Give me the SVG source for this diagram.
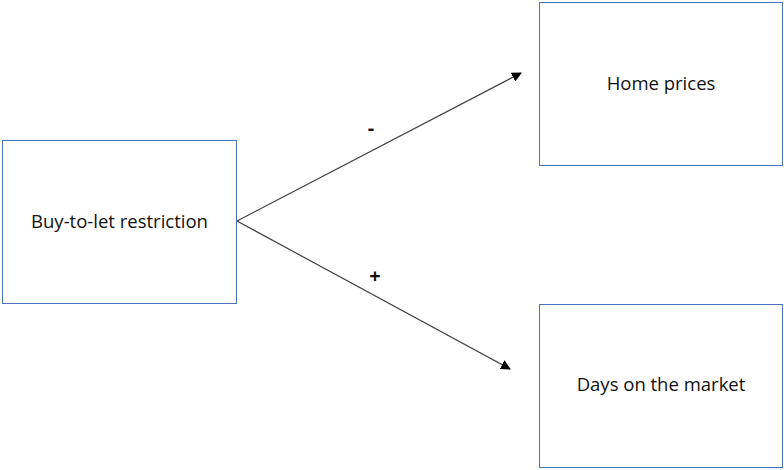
<svg xmlns="http://www.w3.org/2000/svg" width="784" height="470" viewBox="0 0 784 470">
<style>
.box{fill:#fff;stroke:#4a72bd;stroke-width:1}
.t{font-family:"Open Sans","Liberation Sans",sans-serif;font-size:18.5px;fill:#111;text-anchor:middle}
.c{stroke:#404040;stroke-width:1.2;fill:none;marker-end:url(#ah)}
.s{font-family:"Open Sans","Liberation Sans",sans-serif;font-size:20px;font-weight:bold;fill:#111;text-anchor:middle}
</style>
<defs>
<marker id="ah" markerWidth="10" markerHeight="10" refX="9" refY="5" orient="auto" markerUnits="userSpaceOnUse">
<path d="M0,0 L10,5 L0,10 z" fill="#000"/>
</marker>
</defs>
<rect width="784" height="470" fill="#fff"/>
<g id="connectors">
<line class="c" x1="237" y1="221" x2="521" y2="73"/>
<line class="c" x1="237" y1="221" x2="510" y2="369"/>
<text class="s" x="371" y="135">-</text>
<text class="s" x="375" y="283">+</text>
</g>
<g id="buy-to-let">
<rect class="box" x="2.5" y="140.5" width="234" height="163"/>
<text class="t" x="119.5" y="228">Buy-to-let restriction</text>
</g>
<g id="home-prices">
<rect class="box" x="539.5" y="2.5" width="243" height="163"/>
<text class="t" x="661" y="90">Home prices</text>
</g>
<g id="days-market">
<rect class="box" x="539.5" y="304.5" width="243" height="163"/>
<text class="t" x="661" y="391">Days on the market</text>
</g>
</svg>
